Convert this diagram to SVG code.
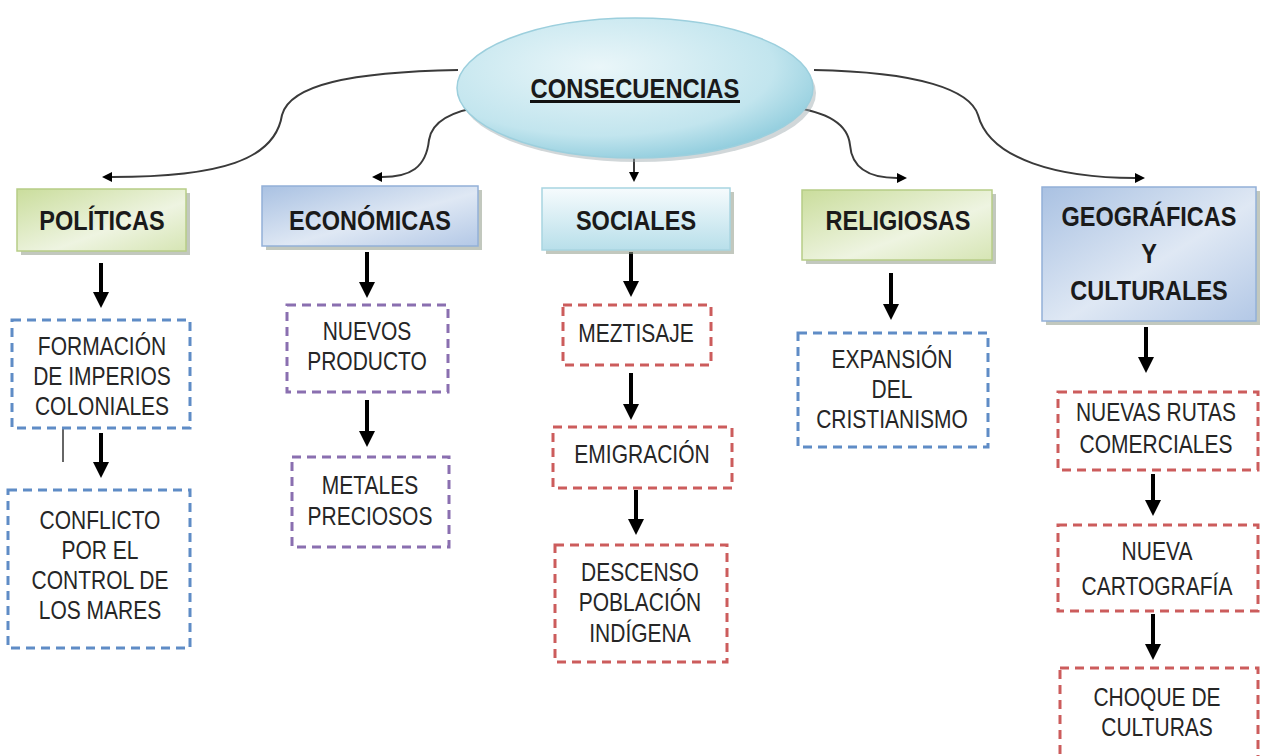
<svg xmlns="http://www.w3.org/2000/svg" width="1262" height="756" viewBox="0 0 1262 756">
<defs>
<style>
.cat{font-family:"Liberation Sans",Arial,sans-serif;font-weight:bold;font-size:28px;fill:#1a1a1a;text-anchor:middle}
.sub{font-family:"Liberation Sans",Arial,sans-serif;font-size:25px;fill:#262626;text-anchor:middle}
.thin{fill:none;stroke:#3a3a3a;stroke-width:2}
.thick{fill:none;stroke:#000;stroke-width:4}
.dblue{fill:#fff;stroke:#5f8cc6;stroke-width:3;stroke-dasharray:9 6}
.dpurple{fill:#fff;stroke:#8a6fb0;stroke-width:3;stroke-dasharray:9 6}
.dred{fill:#fff;stroke:#cc5c5c;stroke-width:3;stroke-dasharray:9 6}
.shadow{fill:#8f9a88;opacity:0.55}
</style>
<linearGradient id="gGreen" x1="0" y1="0" x2="1" y2="1">
<stop offset="0" stop-color="#cadd9c"/><stop offset="0.6" stop-color="#eef4e1"/><stop offset="1" stop-color="#d6e5b4"/>
</linearGradient>
<linearGradient id="gBlue" x1="0" y1="0" x2="1" y2="1">
<stop offset="0" stop-color="#a9c1e2"/><stop offset="0.55" stop-color="#dfe8f4"/><stop offset="1" stop-color="#b3c8e6"/>
</linearGradient>
<linearGradient id="gCyan" x1="0" y1="0" x2="0" y2="1">
<stop offset="0" stop-color="#f6fbfd"/><stop offset="1" stop-color="#b8dfea"/>
</linearGradient>
<radialGradient id="gEll" cx="0.4" cy="0.35" r="0.7">
<stop offset="0" stop-color="#eaf6f9"/><stop offset="0.7" stop-color="#c2e5ee"/><stop offset="1" stop-color="#8dcbdc"/>
</radialGradient>
<marker id="ah" markerUnits="userSpaceOnUse" viewBox="0 0 10 10" refX="0" refY="5" markerWidth="10" markerHeight="10" orient="auto">
<path d="M0,0 L10,5 L0,10 z" fill="#000"/>
</marker>
<marker id="ahT" markerUnits="userSpaceOnUse" viewBox="0 0 10 10" refX="0" refY="5" markerWidth="16" markerHeight="16" orient="auto">
<path d="M0,0 L10,5 L0,10 z" fill="#000"/>
</marker>
</defs>
<rect width="1262" height="756" fill="#fff"/>

<g id="connectors">
<path class="thin" d="M458,70 C350,72 290,85 282,115 C275,160 220,177 112,177" marker-end="url(#ah)"/>
<path class="thin" d="M487,106 C455,110 432,120 429,140 C426,168 410,177 382,177" marker-end="url(#ah)"/>
<path class="thin" d="M634,140 L634,172" marker-end="url(#ah)"/>
<path class="thin" d="M790,107 C830,112 848,125 850,145 C852,170 872,178 897,178" marker-end="url(#ah)"/>
<path class="thin" d="M814,70 C920,72 970,90 978,115 C990,160 1060,178 1135,178" marker-end="url(#ah)"/>
<path class="thick" d="M101,263 L101,292" marker-end="url(#ahT)"/>
<path class="thick" d="M101,433 L101,462" marker-end="url(#ahT)"/>
<path d="M63,427 L63,462" stroke="#666" stroke-width="2" fill="none"/>
<path class="thick" d="M367,252 L367,282" marker-end="url(#ahT)"/>
<path class="thick" d="M367,400 L367,431" marker-end="url(#ahT)"/>
<path class="thick" d="M631,252 L631,281" marker-end="url(#ahT)"/>
<path class="thick" d="M631,373 L631,404" marker-end="url(#ahT)"/>
<path class="thick" d="M636,490 L636,519" marker-end="url(#ahT)"/>
<path class="thick" d="M891,273 L891,304" marker-end="url(#ahT)"/>
<path class="thick" d="M1146,327 L1146,357" marker-end="url(#ahT)"/>
<path class="thick" d="M1153,474 L1153,500" marker-end="url(#ahT)"/>
<path class="thick" d="M1153,614 L1153,644" marker-end="url(#ahT)"/>
</g>

<g id="consecuencias">
<ellipse cx="638" cy="93" rx="178" ry="69" fill="#9aa6aa" opacity="0.45"/>
<ellipse cx="635" cy="88" rx="178" ry="70" fill="url(#gEll)" stroke="#9ccfdd" stroke-width="1.5"/>
<text class="cat" transform="translate(635,98) scale(0.85,1)">CONSECUENCIAS</text>
<rect x="530" y="100" width="210" height="3" fill="#111"/>
</g>

<g id="politicas">
<rect class="shadow" x="21" y="193" width="169" height="62"/>
<rect x="17" y="189" width="169" height="62" fill="url(#gGreen)" stroke="#b7cd87" stroke-width="1.5"/>
<text class="cat" transform="translate(102,230) scale(0.84,1)">POLÍTICAS</text>
</g>
<g id="economicas">
<rect class="shadow" x="266" y="190" width="216" height="60"/>
<rect x="262" y="186" width="216" height="60" fill="url(#gBlue)" stroke="#93b0d8" stroke-width="1.5"/>
<text class="cat" transform="translate(370,230) scale(0.84,1)">ECONÓMICAS</text>
</g>
<g id="sociales">
<rect class="shadow" x="546" y="192" width="188" height="62"/>
<rect x="542" y="188" width="188" height="62" fill="url(#gCyan)" stroke="#a8d5e1" stroke-width="1.5"/>
<text class="cat" transform="translate(636,230) scale(0.84,1)">SOCIALES</text>
</g>
<g id="religiosas">
<rect class="shadow" x="806" y="194" width="190" height="70"/>
<rect x="802" y="190" width="190" height="70" fill="url(#gGreen)" stroke="#b7cd87" stroke-width="1.5"/>
<text class="cat" transform="translate(898,230) scale(0.84,1)">RELIGIOSAS</text>
</g>
<g id="geograficas">
<rect class="shadow" x="1046" y="191" width="214" height="134"/>
<rect x="1042" y="187" width="214" height="134" fill="url(#gBlue)" stroke="#93b0d8" stroke-width="1.5"/>
<text class="cat" transform="translate(1149,226) scale(0.84,1)">GEOGRÁFICAS</text>
<text class="cat" transform="translate(1149,263) scale(0.84,1)">Y</text>
<text class="cat" transform="translate(1149,300) scale(0.84,1)">CULTURALES</text>
</g>

<g id="formacion">
<rect class="dblue" x="12" y="320" width="178" height="108"/>
<text class="sub" transform="translate(102,355) scale(0.84,1)">FORMACIÓN</text>
<text class="sub" transform="translate(102,385) scale(0.84,1)">DE IMPERIOS</text>
<text class="sub" transform="translate(102,415) scale(0.84,1)">COLONIALES</text>
</g>
<g id="conflicto">
<rect class="dblue" x="8" y="490" width="182" height="158"/>
<text class="sub" transform="translate(100,529) scale(0.84,1)">CONFLICTO</text>
<text class="sub" transform="translate(100,559) scale(0.84,1)">POR EL</text>
<text class="sub" transform="translate(100,589) scale(0.84,1)">CONTROL DE</text>
<text class="sub" transform="translate(100,619) scale(0.84,1)">LOS MARES</text>
</g>
<g id="nuevos">
<rect class="dpurple" x="287" y="305" width="161" height="87"/>
<text class="sub" transform="translate(367,340) scale(0.84,1)">NUEVOS</text>
<text class="sub" transform="translate(367,370) scale(0.84,1)">PRODUCTO</text>
</g>
<g id="metales">
<rect class="dpurple" x="292" y="457" width="157" height="90"/>
<text class="sub" transform="translate(370,494) scale(0.84,1)">METALES</text>
<text class="sub" transform="translate(370,525) scale(0.84,1)">PRECIOSOS</text>
</g>
<g id="meztisaje">
<rect class="dred" x="563" y="305" width="148" height="60"/>
<text class="sub" transform="translate(636,342) scale(0.84,1)">MEZTISAJE</text>
</g>
<g id="emigracion">
<rect class="dred" x="553" y="427" width="179" height="61"/>
<text class="sub" transform="translate(642,463) scale(0.84,1)">EMIGRACIÓN</text>
</g>
<g id="descenso">
<rect class="dred" x="555" y="545" width="172" height="117"/>
<text class="sub" transform="translate(640,581) scale(0.84,1)">DESCENSO</text>
<text class="sub" transform="translate(640,611) scale(0.84,1)">POBLACIÓN</text>
<text class="sub" transform="translate(640,642) scale(0.84,1)">INDÍGENA</text>
</g>
<g id="expansion">
<rect class="dblue" x="798" y="333" width="190" height="114"/>
<text class="sub" transform="translate(892,368) scale(0.84,1)">EXPANSIÓN</text>
<text class="sub" transform="translate(892,398) scale(0.84,1)">DEL</text>
<text class="sub" transform="translate(892,428) scale(0.84,1)">CRISTIANISMO</text>
</g>
<g id="rutas">
<rect class="dred" x="1058" y="392" width="200" height="78"/>
<text class="sub" transform="translate(1156,421) scale(0.84,1)">NUEVAS RUTAS</text>
<text class="sub" transform="translate(1156,453) scale(0.84,1)">COMERCIALES</text>
</g>
<g id="cartografia">
<rect class="dred" x="1058" y="525" width="200" height="86"/>
<text class="sub" transform="translate(1157,560) scale(0.84,1)">NUEVA</text>
<text class="sub" transform="translate(1157,595) scale(0.84,1)">CARTOGRAFÍA</text>
</g>
<g id="choque">
<rect class="dred" x="1060" y="668" width="198" height="100"/>
<text class="sub" transform="translate(1157,706) scale(0.84,1)">CHOQUE DE</text>
<text class="sub" transform="translate(1157,736) scale(0.84,1)">CULTURAS</text>
</g>
</svg>
